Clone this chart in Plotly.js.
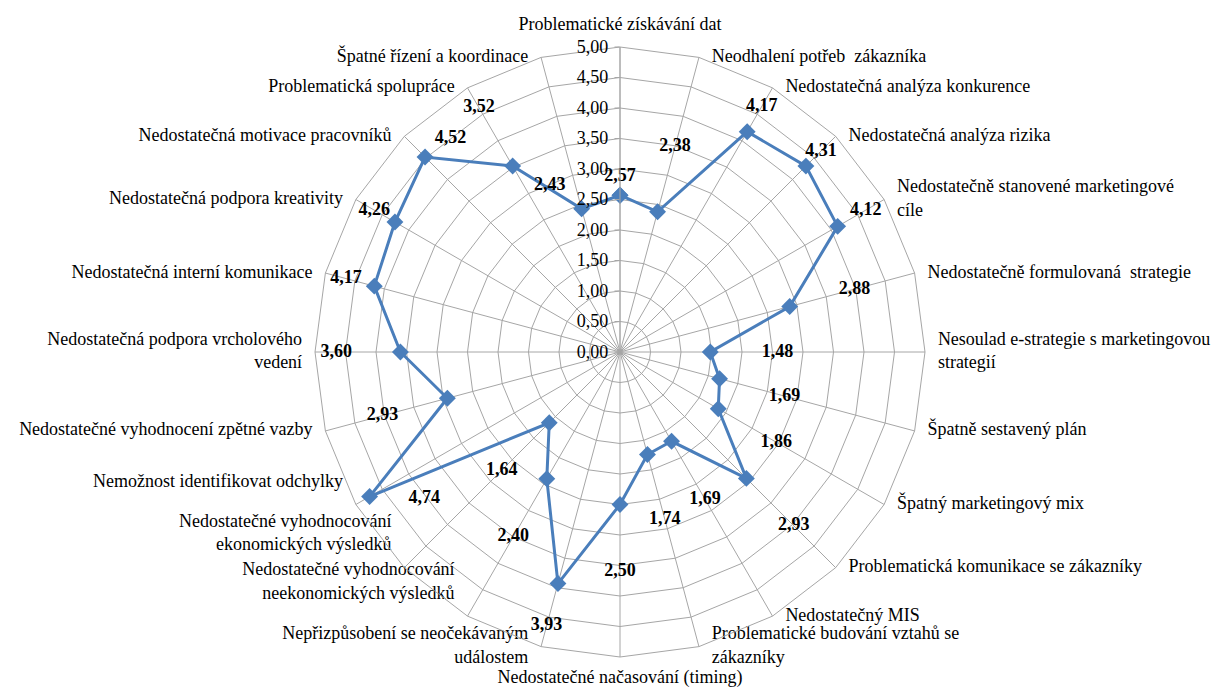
<!DOCTYPE html>
<html>
<head>
<meta charset="utf-8">
<script src="https://cdn.plot.ly/plotly-3.0.1.min.js"></script>
<style>
  html, body { margin: 0; padding: 0; background: #ffffff; }
  #chart { width: 1217px; height: 691px; }
</style>
</head>
<body>
<div id="chart"></div>
<script>
// Risk factors of e-marketing strategy, average rating on a 0–5 scale
const categories = [
  "Problematické získávání dat",
  "Neodhalení potřeb  zákazníka",
  "Nedostatečná analýza konkurence",
  "Nedostatečná analýza rizika",
  "Nedostatečně stanovené marketingové<br>cíle",
  "Nedostatečně formulovaná  strategie",
  "Nesoulad e-strategie s marketingovou<br>strategií",
  "Špatně sestavený plán",
  "Špatný marketingový mix",
  "Problematická komunikace se zákazníky",
  "Nedostatečný MIS",
  "Problematické budování vztahů se<br>zákazníky",
  "Nedostatečné načasování (timing)",
  "Nepřizpůsobení se neočekávaným<br>událostem",
  "Nedostatečné vyhodnocování<br>neekonomických výsledků",
  "Nedostatečné vyhodnocování<br>ekonomických výsledků",
  "Nemožnost identifikovat odchylky",
  "Nedostatečné vyhodnocení zpětné vazby",
  "Nedostatečná podpora vrcholového<br>vedení",
  "Nedostatečná interní komunikace",
  "Nedostatečná podpora kreativity",
  "Nedostatečná motivace pracovníků",
  "Problematická spolupráce",
  "Špatné řízení a koordinace"
];

const ratings = [
  2.57, 2.38, 4.17, 4.31, 4.12, 2.88, 1.48, 1.69, 1.86, 2.93, 1.69, 1.74,
  2.50, 3.93, 2.40, 1.64, 4.74, 2.93, 3.60, 4.17, 4.26, 4.52, 3.52, 2.43
];

const radialTicks = [0, 0.5, 1, 1.5, 2, 2.5, 3, 3.5, 4, 4.5, 5];
const scaleMax = 5;

const serif = "'Liberation Serif', 'Times New Roman', serif";
const blue = "#4a7ebb";
const gridGrey = "#a6a6a6";

const step = 360 / categories.length;
const spokeAngle = categories.map((c, i) => i * step);

// close the polygon by repeating the first category
const lineR = ratings.concat([ratings[0]]);
const lineTheta = categories.concat([categories[0]]);

// value labels: pushed out along each spoke and kept inside the outer ring.
// The spoke carrying the scale gets its label straight above the marker, the
// spoke just left of it gets the label beside it (clear of the tick labels),
// and markers already close to the outer ring get the label next to them.
const labelGap = 1.1;
const labelMax = 4.65;
const labelPlacement = ratings.map((v, i) => {
  const a = spokeAngle[i];
  if (a === 0) return { r: v, pos: "top center" };
  if (a >= 345) return { r: v + 0.4, pos: "middle left" };
  if (v >= 4.6) return { r: v - 0.55, pos: "bottom right" };
  if (v >= 4.45) return { r: v, pos: "top right" };
  return { r: Math.min(v + labelGap, Math.max(labelMax, v + 0.35)), pos: "middle center" };
});
const labelR = labelPlacement.map(p => p.r);
const labelPos = labelPlacement.map(p => p.pos);
const labelText = ratings.map(v => v.toFixed(2).replace(".", ","));

// category names sit just outside the outer ring, anchored by side
const namePos = spokeAngle.map(a => {
  if (a === 0) return "top center";
  if (a === 180) return "bottom center";
  if (a < 180) return "middle right";
  if (a >= 210 && a <= 240) return "top left";
  return "middle left";
});
const nameR = categories.map(() => scaleMax);

const traces = [
  {
    type: "scatterpolar",
    r: lineR,
    theta: lineTheta,
    mode: "lines+markers",
    line: { color: blue, width: 3 },
    marker: { symbol: "diamond", size: 13, color: blue },
    hoverinfo: "skip",
    showlegend: false
  },
  {
    type: "scatterpolar",
    r: labelR,
    theta: categories,
    mode: "markers+text",
    marker: { size: 14, opacity: 0 },
    text: labelText,
    textposition: labelPos,
    textfont: { family: serif, size: 18, color: "#000000", weight: "bold" },
    cliponaxis: false,
    hoverinfo: "skip",
    showlegend: false
  },
  {
    type: "scatterpolar",
    r: nameR,
    theta: categories,
    mode: "markers+text",
    marker: { size: 19, opacity: 0 },
    text: categories,
    textposition: namePos,
    textfont: { family: serif, size: 18, color: "#000000" },
    cliponaxis: false,
    hoverinfo: "skip",
    showlegend: false
  }
];

const layout = {
  width: 1217,
  height: 691,
  margin: { l: 0, r: 0, t: 0, b: 0 },
  paper_bgcolor: "#ffffff",
  plot_bgcolor: "#ffffff",
  showlegend: false,
  separators: ", ",
  font: { family: serif, size: 18, color: "#000000" },
  polar: {
    domain: { x: [0.25883, 0.76007], y: [0.04920, 0.93198] },
    bgcolor: "#ffffff",
    gridshape: "linear",
    angularaxis: {
      type: "category",
      categoryorder: "array",
      categoryarray: categories,
      rotation: 90,
      direction: "clockwise",
      showline: true,
      linecolor: gridGrey,
      linewidth: 1,
      showgrid: true,
      gridcolor: gridGrey,
      gridwidth: 1,
      ticks: "",
      showticklabels: false
    },
    radialaxis: {
      range: [0, scaleMax],
      angle: 90,
      side: "counterclockwise",
      tickangle: 90,
      tickvals: radialTicks,
      tickformat: ".2f",
      showline: true,
      linecolor: gridGrey,
      linewidth: 1,
      showgrid: true,
      gridcolor: gridGrey,
      gridwidth: 1,
      ticks: "outside",
      ticklen: 5,
      tickcolor: gridGrey,
      tickfont: { family: serif, size: 18, color: "#000000" }
    }
  }
};

Plotly.newPlot("chart", traces, layout, { staticPlot: true, displayModeBar: false });
</script>
</body>
</html>
